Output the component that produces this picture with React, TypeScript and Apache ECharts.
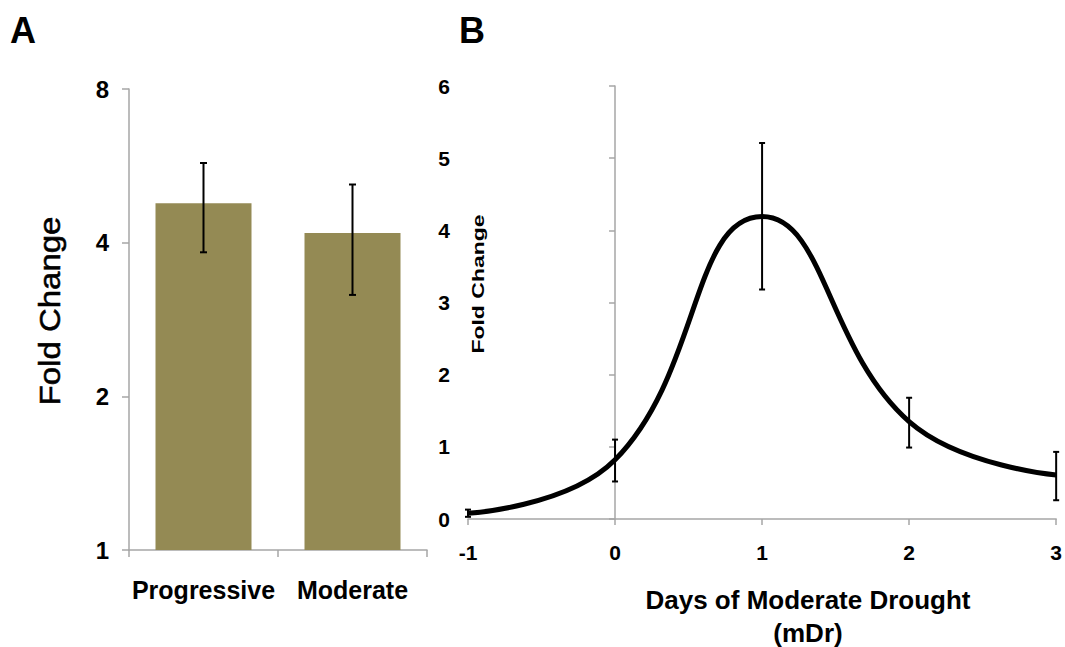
import React, { useEffect, useRef } from "react";
import * as echarts from "echarts";

// Panel A data
const categoriesA = ["Progressive", "Moderate"];
const foldA = [4.78, 4.18];
const errLowA = [3.83, 3.16];
const errHighA = [5.73, 5.2];
const yTicksA = [1, 2, 4, 8];

// Panel B data
const daysB = [-1, 0, 1, 2, 3];
const foldB = [0.08, 0.82, 4.19, 1.35, 0.61];
const errLowB = [0.03, 0.52, 3.18, 0.99, 0.26];
const errHighB = [0.13, 1.1, 5.21, 1.68, 0.93];

const FONT = "'Liberation Sans', Arial, sans-serif";
const AXIS_GRAY = "#a6a6a6";
const BAR_COLOR = "#948a54";

function errorRenderer(capHalf: number) {
  return (params: any, api: any) => {
    const x = api.value(0);
    const lo = api.coord([x, api.value(1)]);
    const hi = api.coord([x, api.value(2)]);
    const style = { stroke: "#000", lineWidth: 2 };
    return {
      type: "group",
      children: [
        { type: "line", shape: { x1: hi[0], y1: hi[1], x2: lo[0], y2: lo[1] }, style },
        { type: "line", shape: { x1: hi[0] - capHalf, y1: hi[1], x2: hi[0] + capHalf, y2: hi[1] }, style },
        { type: "line", shape: { x1: lo[0] - capHalf, y1: lo[1], x2: lo[0] + capHalf, y2: lo[1] }, style },
      ],
    };
  };
}

export default function App() {
  const ref = useRef<HTMLDivElement>(null);
  useEffect(() => {
    if (!ref.current) return;
    const chart = echarts.init(ref.current, null, { renderer: "svg" });
    const option: any = {
      animation: false,
      textStyle: { fontFamily: FONT },
      grid: [
        { left: 129, top: 89, right: 638, bottom: 97 },
        { left: 468, top: 86, right: 7, bottom: 128 },
      ],
      xAxis: [
        {
          gridIndex: 0,
          type: "category",
          data: categoriesA,
          axisLine: { onZero: false, lineStyle: { color: AXIS_GRAY, width: 1.5 } },
          axisTick: { show: true, length: 7, lineStyle: { color: AXIS_GRAY, width: 1.5 } },
          axisLabel: {
            interval: 0,
            margin: 27,
            color: "#000",
            fontWeight: "bold",
            fontSize: 25,
            fontFamily: FONT,
          },
        },
        {
          gridIndex: 1,
          type: "value",
          min: -1,
          max: 3,
          interval: 1,
          splitLine: { show: false },
          axisLine: { lineStyle: { color: AXIS_GRAY, width: 1.5 } },
          axisTick: { show: true, length: 6, lineStyle: { color: AXIS_GRAY, width: 1.5 } },
          axisLabel: {
            margin: 23,
            color: "#000",
            fontWeight: "bold",
            fontSize: 21,
            fontFamily: FONT,
          },
        },
      ],
      yAxis: [
        {
          gridIndex: 0,
          type: "log",
          logBase: 2,
          min: yTicksA[0],
          max: yTicksA[yTicksA.length - 1],
          splitLine: { show: false },
          axisLine: { show: true, lineStyle: { color: AXIS_GRAY, width: 1.5 } },
          axisTick: { show: true, length: 7, lineStyle: { color: AXIS_GRAY, width: 1.5 } },
          axisLabel: {
            margin: 20,
            color: "#000",
            fontWeight: "bold",
            fontSize: 24,
            fontFamily: FONT,
          },
        },
        {
          gridIndex: 1,
          type: "value",
          min: 0,
          max: 6,
          interval: 1,
          splitLine: { show: false },
          axisLine: { show: true, onZero: true, lineStyle: { color: AXIS_GRAY, width: 1.5 } },
          axisTick: { show: true, length: 6, lineStyle: { color: AXIS_GRAY, width: 1.5 } },
          axisLabel: {
            margin: 18,
            color: "#000",
            fontWeight: "bold",
            fontSize: 21,
            fontFamily: FONT,
          },
        },
      ],
      series: [
        {
          type: "bar",
          xAxisIndex: 0,
          yAxisIndex: 0,
          data: foldA,
          barWidth: 96,
          itemStyle: { color: BAR_COLOR },
        },
        {
          type: "custom",
          xAxisIndex: 0,
          yAxisIndex: 0,
          renderItem: errorRenderer(3.5),
          encode: { x: 0, y: [1, 2] },
          data: categoriesA.map((_, i) => [i, errLowA[i], errHighA[i]]),
          z: 5,
        },
        {
          type: "line",
          xAxisIndex: 1,
          yAxisIndex: 1,
          data: daysB.map((d, i) => [d, foldB[i]]),
          smooth: 0.45,
          showSymbol: false,
          lineStyle: { color: "#000", width: 5 },
        },
        {
          type: "custom",
          xAxisIndex: 1,
          yAxisIndex: 1,
          renderItem: errorRenderer(3),
          encode: { x: 0, y: [1, 2] },
          data: daysB.map((d, i) => [d, errLowB[i], errHighB[i]]),
          z: 5,
        },
      ],
      graphic: [
        {
          type: "text",
          left: 10,
          top: 12,
          style: { text: "A", fontSize: 36, fontWeight: "bold", fontFamily: FONT, fill: "#000" },
        },
        {
          type: "text",
          left: 459,
          top: 12,
          style: { text: "B", fontSize: 36, fontWeight: "bold", fontFamily: FONT, fill: "#000" },
        },
        {
          type: "text",
          x: 50,
          y: 311,
          rotation: Math.PI / 2,
          scaleY: 0.9,
          style: {
            text: "Fold Change",
            fontSize: 33,
            fontFamily: FONT,
            fill: "#000",
            stroke: "#000",
            lineWidth: 0.6,
            align: "center",
            verticalAlign: "middle",
          },
        },
        {
          type: "text",
          x: 478,
          y: 284,
          rotation: Math.PI / 2,
          scaleY: 0.7,
          style: {
            text: "Fold Change",
            fontSize: 23,
            fontWeight: "bold",
            fontFamily: FONT,
            fill: "#000",
            align: "center",
            verticalAlign: "middle",
          },
        },
        {
          type: "text",
          x: 808,
          y: 616,
          style: {
            text: "Days of Moderate Drought\n(mDr)",
            fontSize: 26,
            fontWeight: "bold",
            fontFamily: FONT,
            fill: "#000",
            align: "center",
            verticalAlign: "middle",
            lineHeight: 33,
          },
        },
      ],
    };
    chart.setOption(option);
    return () => chart.dispose();
  }, []);
  return (
    <div
      ref={ref}
      style={{ position: "fixed", left: 0, top: 0, width: 1065, height: 647, background: "#fff" }}
    />
  );
}
